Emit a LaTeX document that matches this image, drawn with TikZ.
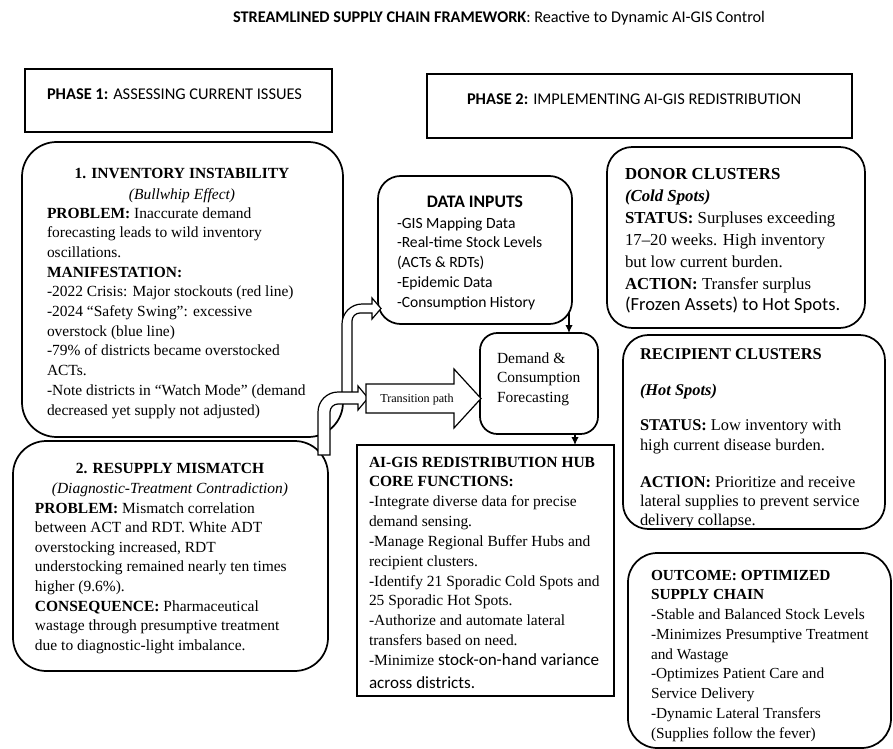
\documentclass[tikz,border=0pt]{standalone}
\usepackage{fontspec}
\setmainfont{Liberation Serif}
\newfontfamily\calfont{Carlito}
\usetikzlibrary{arrows.meta,fit}
\newcommand\mylines[6][]{\foreach \tx [count=\n] in {#6}{\node[txt,#1] (#2\n) at (#3,{#4+(\n-1)*#5}) {\tx};}}
\tikzset{
  txt/.style={anchor=base west, inner sep=0pt, outer sep=0pt, font=\fontsize{11.6}{14}\selectfont},
  ctr/.style={anchor=base, inner sep=0pt, outer sep=0pt, font=\fontsize{11.6}{14}\selectfont},
  cal/.style={font=\calfont\fontsize{11.7}{14}\selectfont},
  calbig/.style={font=\calfont\fontsize{12.3}{14}\selectfont},
  big/.style={font=\fontsize{12.6}{15}\selectfont},
  rbox/.style={draw, line width=1.3pt, rounded corners=#1, inner sep=0pt, outer sep=0pt},
  sbox/.style={draw, line width=1.3pt, inner sep=0pt, outer sep=0pt},
  blockarrow/.style={draw, line width=0.9pt, fill=white, line join=miter},
  conn/.style={-{Latex[length=6pt,width=5.5pt]}, line width=0.8pt},
}
\begin{document}
\begin{tikzpicture}[x=0.75pt,y=-0.75pt]
\useasboundingbox (0,0) rectangle (893,749);

% title
\node[anchor=base, inner sep=0pt, font=\calfont\fontsize{12.2}{14}\selectfont] (title) at (499,23)
  {\textbf{STREAMLINED SUPPLY CHAIN FRAMEWORK}: Reactive to Dynamic AI-GIS Control};

% phase headers
\node[sbox, fit={(25,69) (332,132)}] (ph1) {};
\node[txt, calbig] (ph1t) at (47,99) {\textbf{PHASE 1:} ASSESSING CURRENT ISSUES};
\node[sbox, fit={(427,74) (852,138)}] (ph2) {};
\node[txt, calbig] (ph2t) at (467,105) {\textbf{PHASE 2:} IMPLEMENTING AI-GIS REDISTRIBUTION};

% box 1
\node[rbox=26pt, fit={(22,142) (343,437)}] (inv) {};
\node[ctr] (invh) at (182,178) {\textbf{1. INVENTORY INSTABILITY}};
\node[ctr] (invs) at (182,199) {\textit{(Bullwhip Effect)}};
\mylines{invl}{47}{218}{19.7}{{\textbf{PROBLEM:} Inaccurate demand}, forecasting leads to wild inventory, oscillations., {\textbf{MANIFESTATION:}}, -2022 Crisis: Major stockouts (red line), -2024 “Safety Swing”: excessive, overstock (blue line), -79\% of districts became overstocked, ACTs., -Note districts in “Watch Mode” (demand, decreased yet supply not adjusted)}

% box 2
\node[rbox=25pt, fit={(13,441) (328,671)}] (res) {};
\node[ctr] (resh) at (170,473) {\textbf{2. RESUPPLY MISMATCH}};
\node[ctr] (ress) at (170,493) {\textit{(Diagnostic-Treatment Contradiction)}};
\mylines{resl}{35}{513}{19.6}{{\textbf{PROBLEM:} Mismatch correlation}, between ACT and RDT. White ADT, {overstocking increased, RDT}, understocking remained nearly ten times, higher (9.6\%)., {\textbf{CONSEQUENCE:} Pharmaceutical}, wastage through presumptive treatment, due to diagnostic-light imbalance.}

% data inputs
\node[rbox=17pt, fit={(378,176) (572,324)}] (din) {};
\node[anchor=base, inner sep=0pt, font=\calfont\bfseries\fontsize{13.2}{15}\selectfont] (dinh) at (475,207) {DATA INPUTS};
\mylines[cal]{dinl}{397}{228}{19.75}{-GIS Mapping Data, -Real-time Stock Levels, (ACTs \& RDTs), -Epidemic Data, -Consumption History}

% demand
\node[rbox=13pt, fit={(480,333) (598,434)}] (dem) {};
\mylines{deml}{497}{363}{19.6}{Demand \&, Consumption, Forecasting}

% hub
\node[sbox, fit={(357,445) (614,696)}] (hub) {};
\mylines{hubl}{369}{467}{19.85}{{\textbf{AI-GIS REDISTRIBUTION HUB}}, {\textbf{CORE FUNCTIONS:}}, -Integrate diverse data for precise, demand sensing., -Manage Regional Buffer Hubs and, recipient clusters., -Identify 21 Sporadic Cold Spots and, 25 Sporadic Hot Spots., -Authorize and automate lateral, transfers based on need., {-Minimize {\calfont\fontsize{12.8}{14}\selectfont stock-on-hand variance}}}
\node[txt, font=\calfont\fontsize{12.8}{14}\selectfont] (hubl12) at (369,688) {across districts.};

% donor
\node[rbox=19pt, fit={(607,147) (865,328)}] (don) {};
\mylines[big]{donl}{625}{180}{21.8}{{\textbf{DONOR CLUSTERS}}, {\textbf{\textit{(Cold Spots)}}}, {\textbf{STATUS:} Surpluses exceeding}, 17–20 weeks. High inventory, but low current burden., {\textbf{ACTION:} Transfer surplus}, {{\calfont\fontsize{13.9}{15}\selectfont (Frozen Assets) to Hot Spots.}}}

% recipient
\node[rbox=19pt, fit={(623,335) (885,529)}] (rec) {};
\begin{scope}
\clip (623,335) rectangle (885,526.5);
\tikzset{every node/.style={font=\fontsize{12.3}{14}\selectfont}}
\node[txt, font=\fontsize{12.3}{14}\selectfont] (recl1) at (640,359) {\textbf{RECIPIENT CLUSTERS}};
\node[txt, font=\fontsize{12.3}{14}\selectfont] (recl2) at (640,395) {\textbf{\textit{(Hot Spots)}}};
\node[txt, font=\fontsize{12.3}{14}\selectfont] (recl3) at (640,430) {\textbf{STATUS:} Low inventory with};
\node[txt, font=\fontsize{12.3}{14}\selectfont] (recl4) at (640,450) {high current disease burden.};
\node[txt, font=\fontsize{12.3}{14}\selectfont] (recl5) at (640,487) {\textbf{ACTION:} Prioritize and receive};
\node[txt, font=\fontsize{12.3}{14}\selectfont] (recl6) at (640,506) {lateral supplies to prevent service};
\node[txt, font=\fontsize{12.3}{14}\selectfont] (recl7) at (640,525) {delivery collapse.};
\end{scope}

% outcome
\node[rbox=22pt, fit={(628,553) (891,748)}] (out) {};
\mylines[font=\fontsize{11.5}{14}\selectfont]{outl}{651}{580}{19.75}{{\textbf{OUTCOME: OPTIMIZED}}, {\textbf{SUPPLY CHAIN}}, -Stable and Balanced Stock Levels, -Minimizes Presumptive Treatment, and Wastage, -Optimizes Patient Care and, Service Delivery, -Dynamic Lateral Transfers, (Supplies follow the fever)}

% block arrows
\draw[blockarrow] (342,400) -- (342,324) .. controls (342,313) and (351,304) .. (362,304) -- (372,304) -- (372,298) -- (381,308.5) -- (372,319) -- (372,313) -- (360,313) .. controls (355.6,313) and (352,316.6) .. (352,321) -- (352,400) -- cycle;
\draw[blockarrow] (318,455) -- (318,412) .. controls (318,401) and (327,392) .. (338,392) -- (358,392) -- (358,386) -- (368,398) -- (358,410) -- (358,404) -- (338,404) .. controls (333.6,404) and (330,407.6) .. (330,412) -- (330,455) -- cycle;
\draw[blockarrow] (366,384) -- (454,384) -- (454,369) -- (481,398.5) -- (454,428) -- (454,413) -- (366,413) -- cycle;
\node[anchor=base, inner sep=0pt, font=\fontsize{9.1}{11}\selectfont] (trans) at (417,402) {Transition path};

% connectors
\coordinate (c1) at (569,313);
\draw[conn] (c1) -- (c1 |- dem.north);
\coordinate (c2) at (575,434);
\draw[conn] (c2) -- (c2 |- hub.north);
\end{tikzpicture}
\end{document}
